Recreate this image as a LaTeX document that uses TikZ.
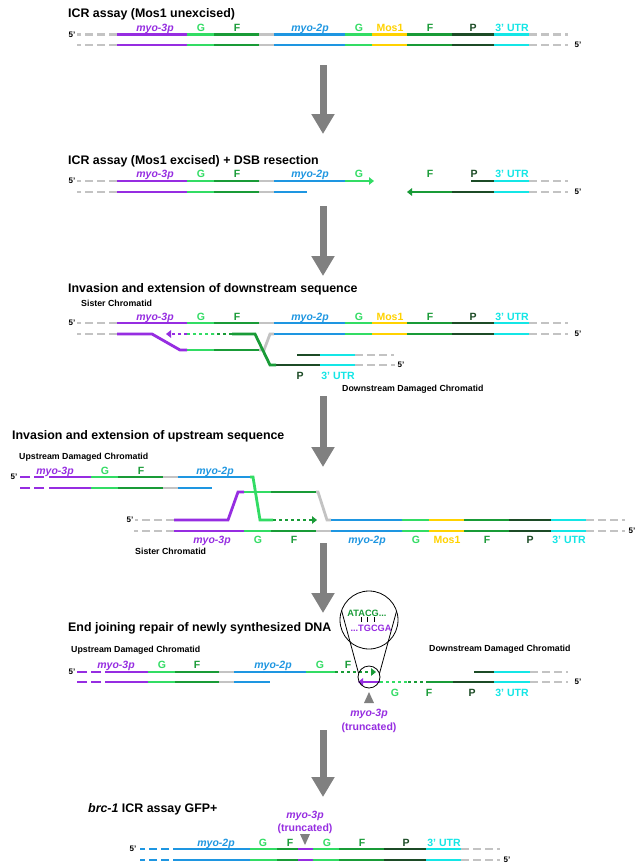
\documentclass[tikz,border=0pt]{standalone}
\usepackage{fontspec}
\setmainfont{Liberation Sans}
\usetikzlibrary{arrows.meta}

\definecolor{cpurple}{RGB}{150,45,225}
\definecolor{cG}{RGB}{50,220,100}
\definecolor{cF}{RGB}{25,155,55}
\definecolor{cP}{RGB}{28,75,38}
\definecolor{cblue}{RGB}{30,150,225}
\definecolor{cMos}{RGB}{255,210,0}
\definecolor{cUTR}{RGB}{20,230,230}
\definecolor{cgrey}{RGB}{195,195,195}
\definecolor{carrow}{RGB}{128,128,128}

% one full strand of the ICR reporter at height #1
\newcommand{\icrstrand}[1]{%
  \draw[tail] (117,#1) -- (77,#1);
  \foreach \xa/\xb/\seg in {117/187/s3p,187/214/sG,214/259/sF,259/274/sgap,274/345/s2p,
      345/372/sG,372/407/sMos,407/452/sF,452/494/sP,494/529/sUTR}
    \draw[\seg] (\xa,#1) -- (\xb,#1);
  \draw[tail] (529,#1) -- (568,#1);}

% labels of the full reporter, baseline #1, names prefixed by #2
\newcommand{\icrlabels}[2]{%
  \node[labit,text=cpurple] (#2-3p) at (155,#1) {myo-3p};
  \node[lab,text=cG] (#2-g1) at (201,#1) {G};
  \node[lab,text=cF] (#2-f1) at (237,#1) {F};
  \node[labit,text=cblue] (#2-2p) at (310,#1) {myo-2p};
  \node[lab,text=cG] (#2-g2) at (359,#1) {G};
  \node[lab,text=cMos] (#2-mos) at (390,#1) {Mos1};
  \node[lab,text=cF] (#2-f2) at (430,#1) {F};
  \node[lab,text=cP] (#2-p) at (473,#1) {P};
  \node[lab,text=cUTR] (#2-utr) at (512,#1) {3’ UTR};}

\begin{document}
\begin{tikzpicture}[x=1pt,y=-1pt,
    strand/.style={line width=2.8pt},
    s3p/.style={strand,draw=cpurple},
    sG/.style={strand,draw=cG},
    sF/.style={strand,draw=cF},
    sP/.style={strand,draw=cP},
    s2p/.style={strand,draw=cblue},
    sMos/.style={strand,draw=cMos},
    sUTR/.style={strand,draw=cUTR},
    sgap/.style={strand,draw=cgrey},
    tail/.style={strand,draw=cgrey,dash pattern=on 8pt off 4pt},
    brokenend/.style={dash pattern=on 10pt off 4pt},
    dots/.style={dash pattern=on 3pt off 3pt},
    endtip/.style={-{Triangle[length=5pt,width=7.5pt]}},
    bigarrow/.style={draw=carrow,line width=7pt,-{Triangle[length=20pt,width=22pt]}},
    title/.style={anchor=base west,inner sep=0pt,font=\bfseries\fontsize{12.4}{14}\selectfont},
    small/.style={anchor=base west,inner sep=0pt,font=\bfseries\fontsize{8.8}{10}\selectfont},
    fivep/.style={inner sep=0pt,font=\bfseries\fontsize{8}{9}\selectfont},
    lab/.style={anchor=base,inner sep=0pt,font=\bfseries\fontsize{10.5}{12}\selectfont},
    labit/.style={lab,font=\bfseries\itshape\fontsize{10.5}{12}\selectfont},
    seq/.style={inner sep=0pt,font=\bfseries\fontsize{9.2}{11}\selectfont}]
  \useasboundingbox[fill=white] (0,0) rectangle (636,865);

  % ---- ICR assay, Mos1 unexcised
  \node[title] (title1) at (68,17.5) {ICR assay (Mos1 unexcised)};
  \node[fivep] (end1a) at (72,34.5) {5’};
  \node[fivep] (end1b) at (578,45) {5’};
  \icrlabels{31}{a}
  \icrstrand{34.5}
  \icrstrand{45}

  \coordinate (arr1s) at (323,65);
  \coordinate (arr1e) at (323,134);
  \draw[bigarrow] (arr1s) -- (arr1e);

  % ---- Mos1 excised + resection
  \node[title] (title2) at (68,164.5) {ICR assay (Mos1 excised) + DSB resection};
  \node[fivep] (end2a) at (72,181) {5’};
  \node[fivep] (end2b) at (578,192) {5’};
  \node[labit,text=cpurple] (b-3p) at (155,177) {myo-3p};
  \node[lab,text=cG] (b-g1) at (201,177) {G};
  \node[lab,text=cF] (b-f1) at (237,177) {F};
  \node[labit,text=cblue] (b-2p) at (310,177) {myo-2p};
  \node[lab,text=cG] (b-g2) at (359,177) {G};
  \node[lab,text=cF] (b-f2) at (430,177) {F};
  \node[lab,text=cP] (b-p) at (474,177) {P};
  \node[lab,text=cUTR] (b-utr) at (512,177) {3’ UTR};
  % left end
  \draw[tail] (117,181) -- (77,181);
  \draw[s3p] (117,181) -- (187,181);
  \draw[sG] (187,181) -- (214,181);
  \draw[sF] (214,181) -- (259,181);
  \draw[sgap] (259,181) -- (274,181);
  \draw[s2p] (274,181) -- (345,181);
  \draw[sG,endtip] (345,181) -- (374,181);
  \draw[tail] (117,192) -- (77,192);
  \draw[s3p] (117,192) -- (187,192);
  \draw[sG] (187,192) -- (214,192);
  \draw[sF] (214,192) -- (259,192);
  \draw[sgap] (259,192) -- (274,192);
  \draw[s2p] (274,192) -- (307,192);
  % right end
  \draw[sP] (471,181) -- (494,181);
  \draw[sUTR] (494,181) -- (529,181);
  \draw[tail] (529,181) -- (568,181);
  \draw[sF,endtip] (452,192) -- (407,192);
  \draw[sP] (452,192) -- (494,192);
  \draw[sUTR] (494,192) -- (529,192);
  \draw[tail] (529,192) -- (568,192);

  \coordinate (arr2s) at (323,206);
  \coordinate (arr2e) at (323,276);
  \draw[bigarrow] (arr2s) -- (arr2e);

  % ---- invasion of downstream end
  \node[title] (title3) at (68,292.5) {Invasion and extension of downstream sequence};
  \node[small] (sister3) at (81,306.5) {Sister Chromatid};
  \node[fivep] (end3a) at (72,323) {5’};
  \node[fivep] (end3b) at (578,334) {5’};
  \node[fivep] (end3c) at (401,365) {5’};
  \icrlabels{320}{c}
  \icrstrand{323}
  % displaced sister strand
  \draw[tail] (117,334) -- (77,334);
  \draw[s3p] (117,334) -- (152,334) -- (180,350) -- (187,350);
  \draw[sG] (187,350) -- (214,350);
  \draw[sF] (214,350) -- (259,350);
  \draw[sgap] (259,350) -- (264,350) -- (270,334) -- (274,334);
  \draw[s2p] (274,334) -- (345,334);
  \draw[sG] (345,334) -- (372,334);
  \draw[sMos] (372,334) -- (407,334);
  \draw[sF] (407,334) -- (452,334);
  \draw[sP] (452,334) -- (494,334);
  \draw[sUTR] (494,334) -- (529,334);
  \draw[tail] (529,334) -- (568,334);
  % downstream damaged chromatid
  \draw[sP] (297,355) -- (320,355);
  \draw[sUTR] (320,355) -- (355,355);
  \draw[tail] (355,355) -- (394,355);
  \draw[sP] (276,365) -- (320,365);
  \draw[sUTR] (320,365) -- (355,365);
  \draw[tail] (355,365) -- (395,365);
  \draw[sF] (276,365) -- (270,365) -- (255,334) -- (232,334);
  \draw[sF,dots] (232,334) -- (214,334);
  \draw[sG,dots] (214,334) -- (187,334);
  \draw[s3p,dots,endtip] (187,334) -- (166,334);
  \node[lab,text=cP] (c-p2) at (300,379) {P};
  \node[lab,text=cUTR] (c-utr2) at (338,379) {3’ UTR};
  \node[small] (down3) at (342,391.5) {Downstream Damaged Chromatid};

  \coordinate (arr3s) at (323,396);
  \coordinate (arr3e) at (323,467);
  \draw[bigarrow] (arr3s) -- (arr3e);

  % ---- invasion of upstream end
  \node[title] (title4) at (12,439.5) {Invasion and extension of upstream sequence};
  \node[small] (up4) at (19,459.5) {Upstream Damaged Chromatid};
  \node[fivep] (end4a) at (14,477) {5’};
  \node[fivep] (end4b) at (130,520) {5’};
  \node[fivep] (end4c) at (632,531) {5’};
  \node[labit,text=cpurple] (d-3p) at (55,474) {myo-3p};
  \node[lab,text=cG] (d-g1) at (105,474) {G};
  \node[lab,text=cF] (d-f1) at (141,474) {F};
  \node[labit,text=cblue] (d-2p) at (215,474) {myo-2p};
  % upstream damaged chromatid
  \draw[s3p,brokenend] (44,477) -- (20,477);
  \draw[s3p] (49,477) -- (91,477);
  \draw[sG] (91,477) -- (118,477);
  \draw[sF] (118,477) -- (163,477);
  \draw[sgap] (163,477) -- (178,477);
  \draw[s2p] (178,477) -- (250,477);
  \draw[s3p,brokenend] (44,488) -- (20,488);
  \draw[s3p] (49,488) -- (91,488);
  \draw[sG] (91,488) -- (118,488);
  \draw[sF] (118,488) -- (163,488);
  \draw[sgap] (163,488) -- (178,488);
  \draw[s2p] (178,488) -- (212,488);
  % sister chromatid, top strand displaced
  \draw[tail] (174,520) -- (135,520);
  \draw[s3p] (174,520) -- (228,520) -- (238,492) -- (244,492);
  \draw[sG] (244,492) -- (271,492);
  \draw[sF] (271,492) -- (316,492);
  \draw[sgap] (316,492) -- (318,492) -- (327,520) -- (331,520);
  \draw[s2p] (331,520) -- (402,520);
  \draw[sG] (402,520) -- (429,520);
  \draw[sMos] (429,520) -- (464,520);
  \draw[sF] (464,520) -- (509,520);
  \draw[sP] (509,520) -- (551,520);
  \draw[sUTR] (551,520) -- (586,520);
  \draw[tail] (586,520) -- (625,520);
  \begin{scope}[xshift=57]
    \icrstrand{531}
    \icrlabels{543}{e}
  \end{scope}
  % invading upstream end
  \draw[sG] (250,477) -- (253,477) -- (260,520) -- (273,520);
  \draw[sF,dots,endtip] (273,520) -- (317,520);
  \node[small] (sister4) at (135,554.5) {Sister Chromatid};

  \coordinate (arr4s) at (323,543);
  \coordinate (arr4e) at (323,613);
  \draw[bigarrow] (arr4s) -- (arr4e);

  % ---- end joining
  \node[title] (title5) at (68,631.5) {End joining repair of newly synthesized DNA};
  \node[small] (up5) at (71,652.5) {Upstream Damaged Chromatid};
  \node[small] (down5) at (429,651.5) {Downstream Damaged Chromatid};
  \node[fivep] (end5a) at (72,672) {5’};
  \node[fivep] (end5b) at (578,682) {5’};
  \node[labit,text=cpurple] (f-3p) at (116,668) {myo-3p};
  \node[lab,text=cG] (f-g1) at (162,668) {G};
  \node[lab,text=cF] (f-f1) at (197,668) {F};
  \node[labit,text=cblue] (f-2p) at (273,668) {myo-2p};
  \node[lab,text=cG] (f-g2) at (320,668) {G};
  \node[lab,text=cF] (f-f2) at (348,668) {F};
  \draw[s3p,brokenend] (101,672) -- (77,672);
  \draw[s3p] (105,672) -- (148,672);
  \draw[sG] (148,672) -- (175,672);
  \draw[sF] (175,672) -- (219,672);
  \draw[sgap] (219,672) -- (234,672);
  \draw[s2p] (234,672) -- (306,672);
  \draw[sG] (306,672) -- (335,672);
  \draw[sF,dots,endtip] (335,672) -- (376,672);
  \draw[s3p,brokenend] (101,682) -- (77,682);
  \draw[s3p] (105,682) -- (148,682);
  \draw[sG] (148,682) -- (175,682);
  \draw[sF] (175,682) -- (219,682);
  \draw[sgap] (219,682) -- (234,682);
  \draw[s2p] (234,682) -- (270,682);
  % downstream side
  \draw[sP] (474,672) -- (494,672);
  \draw[sUTR] (494,672) -- (530,672);
  \draw[tail] (530,672) -- (568,672);
  \draw[s3p,endtip] (380,682) -- (358,682);
  \draw[sG,dots] (380,682) -- (408,682);
  \draw[sF,dots] (408,682) -- (427,682);
  \draw[sF] (427,682) -- (453,682);
  \draw[sP] (453,682) -- (494,682);
  \draw[sUTR] (494,682) -- (530,682);
  \draw[tail] (530,682) -- (568,682);
  \node[lab,text=cG] (f-g3) at (395,696) {G};
  \node[lab,text=cF] (f-f3) at (429,696) {F};
  \node[lab,text=cP] (f-p) at (472,696) {P};
  \node[lab,text=cUTR] (f-utr) at (512,696) {3’ UTR};
  % magnified junction
  \node[circle,draw,line width=0.8pt,inner sep=0pt,outer sep=0pt,minimum size=22pt] (junction) at (369,677) {};
  \node[circle,draw,line width=0.8pt,inner sep=0pt,outer sep=0pt,minimum size=58pt] (magnify) at (369,620) {};
  \draw[line width=0.8pt] (magnify.18.4) -- (junction.18.4);
  \draw[line width=0.8pt] (magnify.161.6) -- (junction.161.6);
  \node[seq,text=cF] (seqtop) at (367,613) {ATACG...};
  \node[seq,text=cpurple] (seqbot) at (371,628) {...TGCGA};
  \draw[line width=1pt] (361,617) -- (361,622);
  \draw[line width=1pt] (367,617) -- (367,622);
  \draw[line width=1pt] (374,617) -- (374,622);
  \fill[carrow] (369,692) -- (374,703) -- (364,703) -- cycle;
  \node[labit,text=cpurple] (f-trunc) at (369,716) {myo-3p};
  \node[lab,text=cpurple] (f-trunc2) at (369,730) {(truncated)};

  \coordinate (arr5s) at (323,730);
  \coordinate (arr5e) at (323,797);
  \draw[bigarrow] (arr5s) -- (arr5e);

  % ---- GFP+ product
  \node[title] (title6) at (88,812.5) {\textit{brc-1} ICR assay GFP+};
  \node[labit,text=cpurple] (g-trunc) at (305,818) {myo-3p};
  \node[lab,text=cpurple] (g-trunc2) at (305,831) {(truncated)};
  \fill[carrow] (300,834) -- (310,834) -- (305,845) -- cycle;
  \node[fivep] (end6a) at (133,849) {5’};
  \node[fivep] (end6b) at (507,860) {5’};
  \node[labit,text=cblue] (g-2p) at (216,846) {myo-2p};
  \node[lab,text=cG] (g-g1) at (263,846) {G};
  \node[lab,text=cF] (g-f1) at (290,846) {F};
  \node[lab,text=cG] (g-g2) at (327,846) {G};
  \node[lab,text=cF] (g-f2) at (362,846) {F};
  \node[lab,text=cP] (g-p) at (406,846) {P};
  \node[lab,text=cUTR] (g-utr) at (444,846) {3’ UTR};
  \foreach \yy in {849,860} {
    \draw[s2p,dash pattern=on 8pt off 4pt] (169,\yy) -- (140,\yy);
    \draw[s2p] (173,\yy) -- (250,\yy);
    \draw[sG] (250,\yy) -- (277,\yy);
    \draw[sF] (277,\yy) -- (298,\yy);
    \draw[s3p] (298,\yy) -- (313,\yy);
    \draw[sG] (313,\yy) -- (339,\yy);
    \draw[sF] (339,\yy) -- (384,\yy);
    \draw[sP] (384,\yy) -- (426,\yy);
    \draw[sUTR] (426,\yy) -- (461,\yy);
    \draw[tail] (461,\yy) -- (500,\yy);
  }
\end{tikzpicture}
\end{document}
